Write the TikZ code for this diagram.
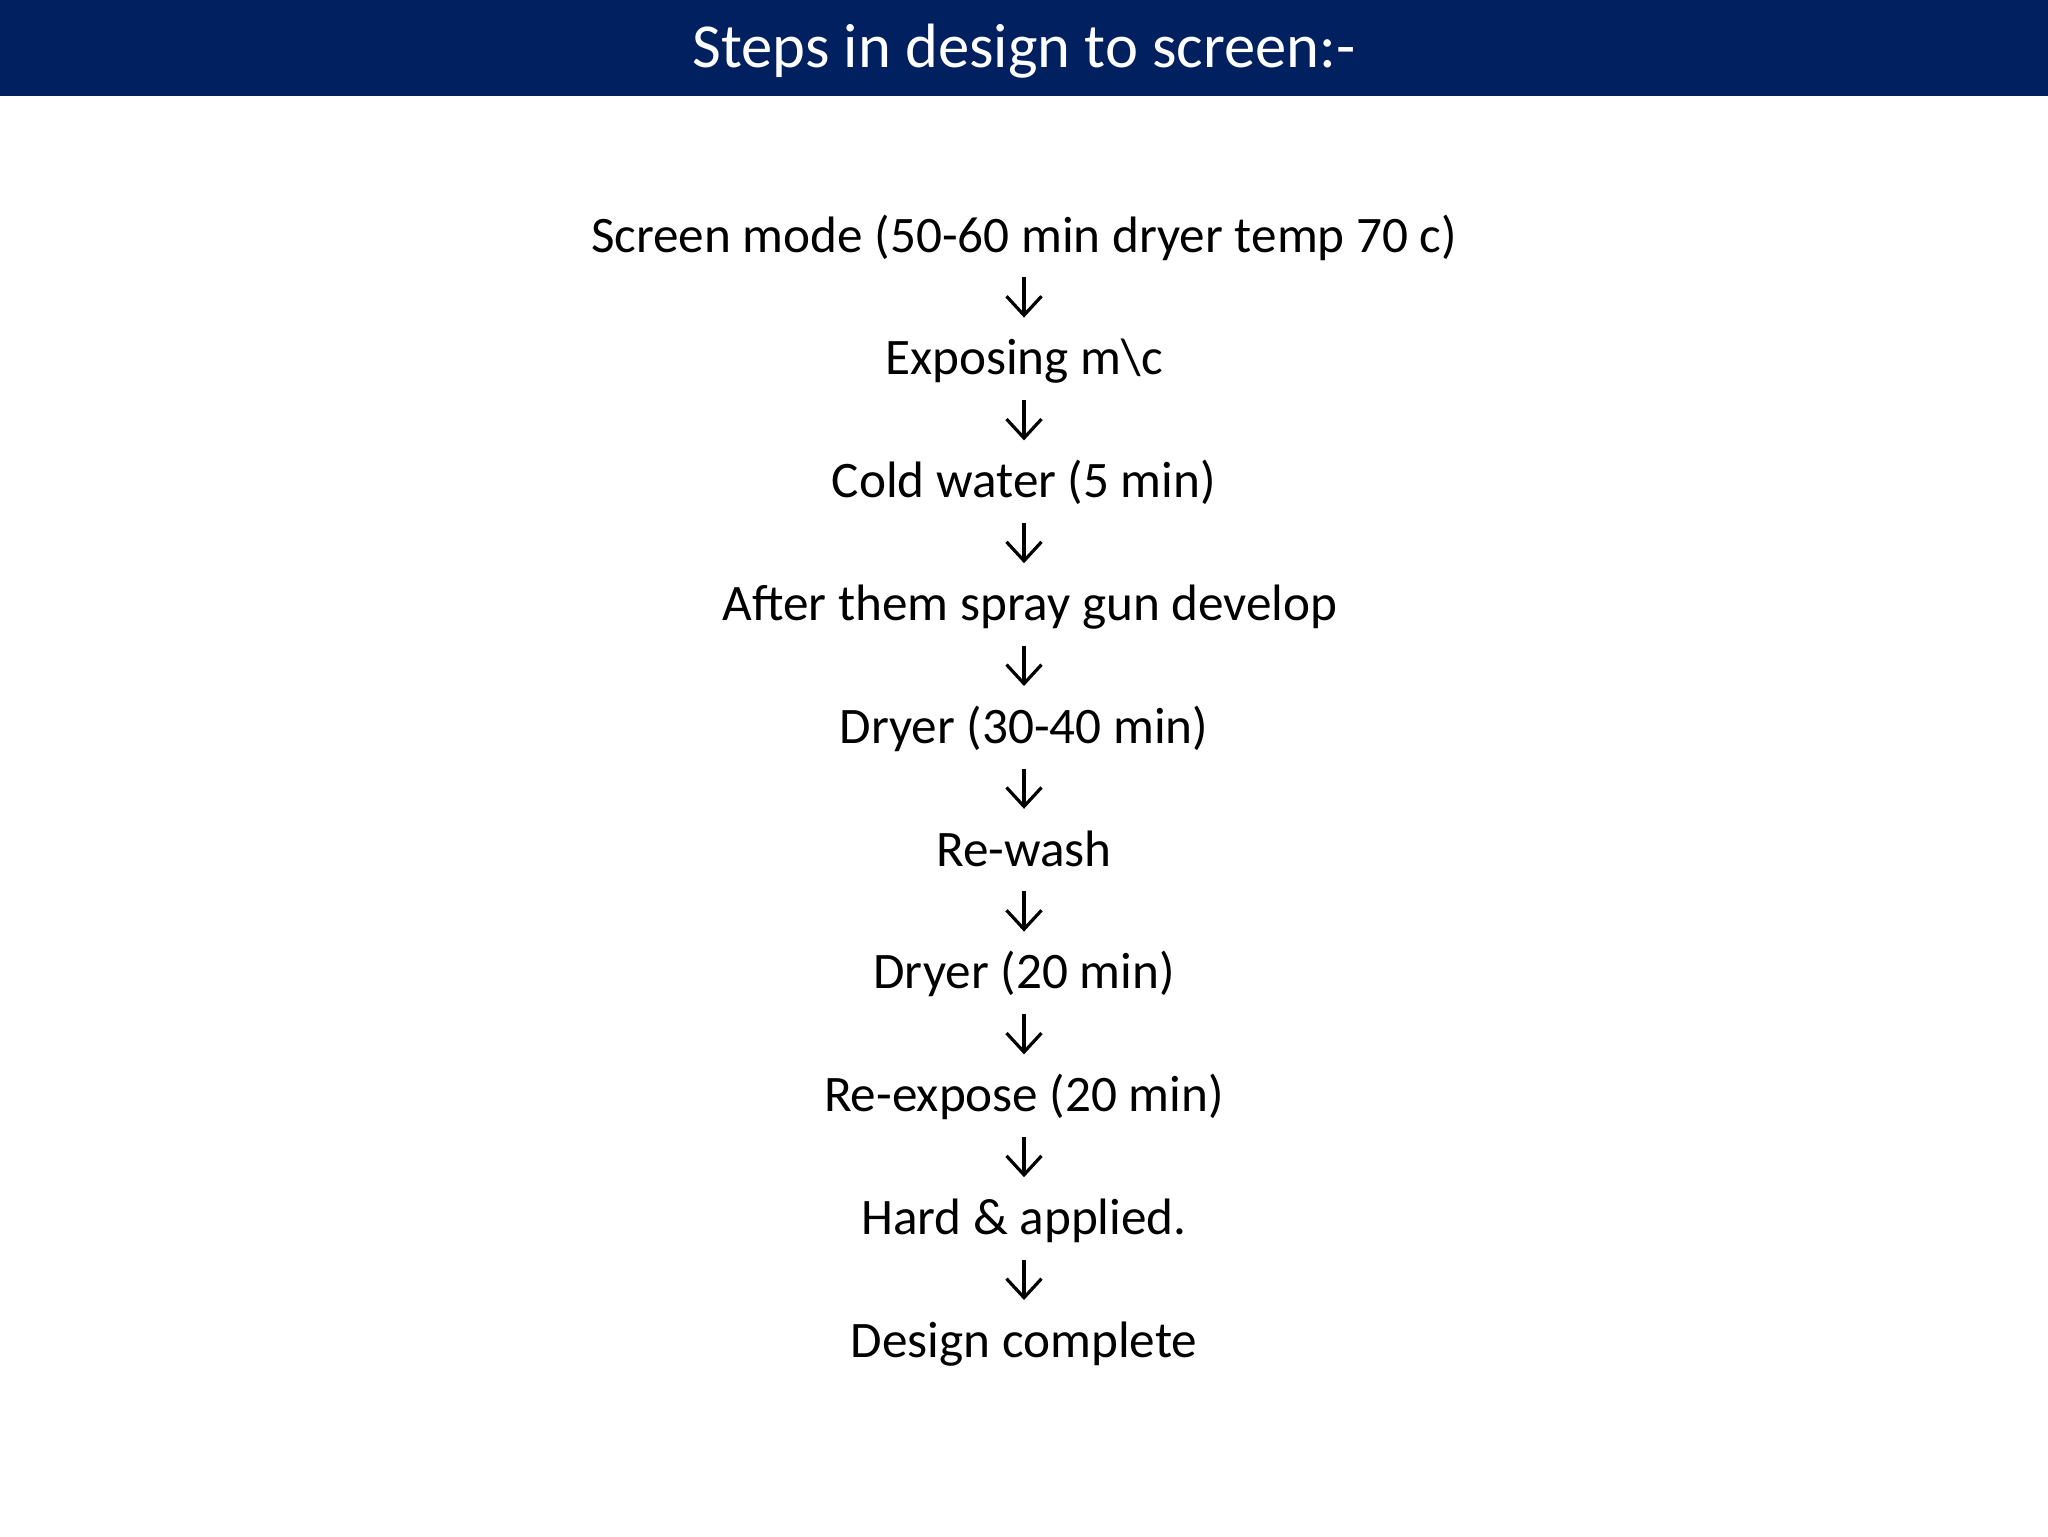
\documentclass[tikz,border=0pt]{standalone}
\usepackage{fontspec}
\setmainfont{Carlito}
\usetikzlibrary{arrows.meta}
\definecolor{navy}{HTML}{002060}
\begin{document}
\begin{tikzpicture}[x=0.5pt,y=-0.5pt,
  stepnode/.style={anchor=base, inner sep=0pt, font=\fontsize{25.6}{30}\selectfont, text height=28.4pt, text depth=12.5pt},
  flow/.style={-{Straight Barb[length=9.5pt,width=17.5pt]}, line width=1.6pt},
  titlenode/.style={anchor=base, inner sep=0pt, text=white, font=\fontsize{31.3}{38}\selectfont}]
\useasboundingbox (0,0) rectangle (2048,1536);
\fill[white] (0,0) rectangle (2048,1536);
\fill[navy] (0,0) rectangle (2048,96);
\node[titlenode] (title) at (1024,68) {Steps in design to screen:-};
\node[stepnode] (s1) at (1024,252) {Screen mode (50-60 min dryer temp 70 c)};
\node[stepnode] (s2) at (1024,374.8) {Exposing m\textbackslash c};
\node[stepnode] (s3) at (1024,497.6) {Cold water (5 min)};
\node[stepnode] (s4) at (1030,620.4) {After them spray gun develop};
\node[stepnode] (s5) at (1024,743.2) {Dryer (30-40 min)};
\node[stepnode] (s6) at (1024,866) {Re-wash};
\node[stepnode] (s7) at (1024,988.8) {Dryer (20 min)};
\node[stepnode] (s8) at (1024,1111.6) {Re-expose (20 min)};
\node[stepnode] (s9) at (1024,1234.4) {Hard \& applied.};
\node[stepnode] (s10) at (1024,1357.2) {Design complete};
\foreach \a/\b in {s1/s2,s2/s3,s5/s6,s6/s7,s7/s8,s8/s9,s9/s10}
  \draw[flow] (\a.south) -- (\b.north);
\draw[flow] (s3.south) -- (s3.south |- s4.north);
\draw[flow] (s4.south -| s5.north) -- (s5.north);
\end{tikzpicture}
\end{document}
